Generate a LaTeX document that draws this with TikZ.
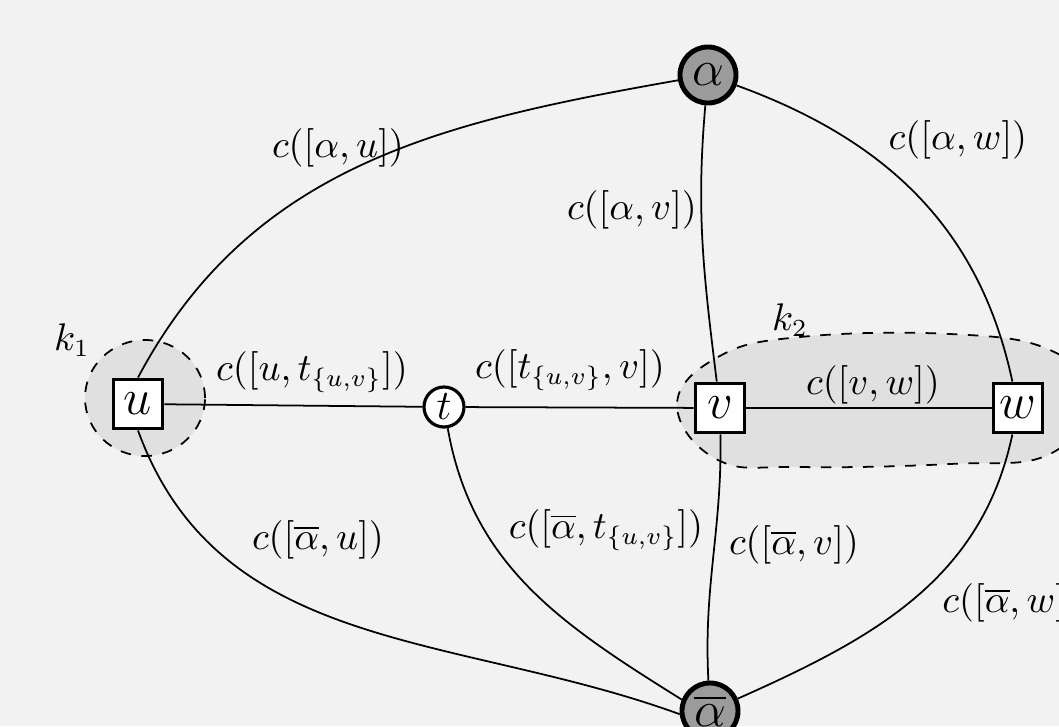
\documentclass[tikz,border=0pt]{standalone}
\usepackage{amsmath}
\usepackage{amssymb}
\usetikzlibrary{positioning}
\definecolor{bggray}{RGB}{242,242,242}
\definecolor{clgray}{RGB}{224,224,224}
\definecolor{termgray}{RGB}{155,155,155}

\begin{document}
\begin{tikzpicture}[
  x=0.01cm, y=0.01cm,
  var/.style={rectangle, draw, line width=1.1pt, fill=white, minimum size=0.49cm, inner sep=0pt, font=\Large},
  term/.style={circle, draw, line width=1.4pt, fill=termgray, minimum size=0.56cm, inner sep=0pt, font=\Large},
  aux/.style={circle, draw, line width=0.9pt, fill=white, minimum size=0.4cm, inner sep=0pt, font=\large},
  edge/.style={line width=0.5pt},
  cluster/.style={draw, dashed, line width=0.5pt, fill=clgray},
  lbl/.style={font=\fontsize{10.6}{13}\selectfont}
]
\clip (0,0) rectangle (1059,726);
\fill[bggray] (0,0) rectangle (1059,726);

% clusters
\draw[cluster] (145,328) ellipse [x radius=60, y radius=58];
\draw[cluster] plot[smooth cycle, tension=0.7] coordinates {(677,321) (718,369) (800,389) (950,392) (1050,376) (1090,330) (1050,272) (950,262) (800,259) (718,266)};
\node[lbl] (k1) at (72,386) {$k_1$};
\node[lbl] (k2) at (790,406) {$k_2$};

% terminals and variables
\node[term] (alpha) at (708,651) {$\alpha$};
\node[term] (abar) at (710,15) {$\overline{\alpha}$};
\node[var] (u) at (138,322) {$u$};
\node[var] (v) at (720,318) {$v$};
\node[var] (w) at (1018,318) {$w$};
\node[aux] (t) at (444,319) {$t$};

\draw[edge] (u) -- (t);
\draw[edge] (t) -- (v);
\draw[edge] (v) -- (w);
\draw[edge] (alpha) to[out=190, in=62] (u.north);
\draw[edge] (alpha) to[out=265, in=97] (v);
\draw[edge] (alpha) to[out=-20, in=102] (w);
\draw[edge] (u.south) to[out=-70, in=160] (abar.186);
\draw[edge] (t) to[out=-80, in=148] (abar.158);
\draw[edge] (v) to[out=-89, in=93] (abar);
\draw[edge] (w) to[out=-102, in=24] (abar);

% edge labels
\node[lbl] (lau) at (338,578) {$c([\alpha,u])$};
\node[lbl] (lav) at (632,516) {$c([\alpha,v])$};
\node[lbl] (law) at (958,586) {$c([\alpha,w])$};
\node[lbl] (lut) at (312,354) {$c([u,t_{\{u,v\}}])$};
\node[lbl] (ltv) at (570,356) {$c([t_{\{u,v\}},v])$};
\node[lbl] (lvw) at (873,341) {$c([v,w])$};
\node[lbl] (lbu) at (318,186) {$c([\overline{\alpha},u])$};
\node[lbl] (lbt) at (606,196) {$c([\overline{\alpha},t_{\{u,v\}}])$};
\node[lbl] (lbv) at (794,181) {$c([\overline{\alpha},v])$};
\node[lbl, anchor=west] (lbw) at (930,123) {$c([\overline{\alpha},w])$};
\end{tikzpicture}
\end{document}
